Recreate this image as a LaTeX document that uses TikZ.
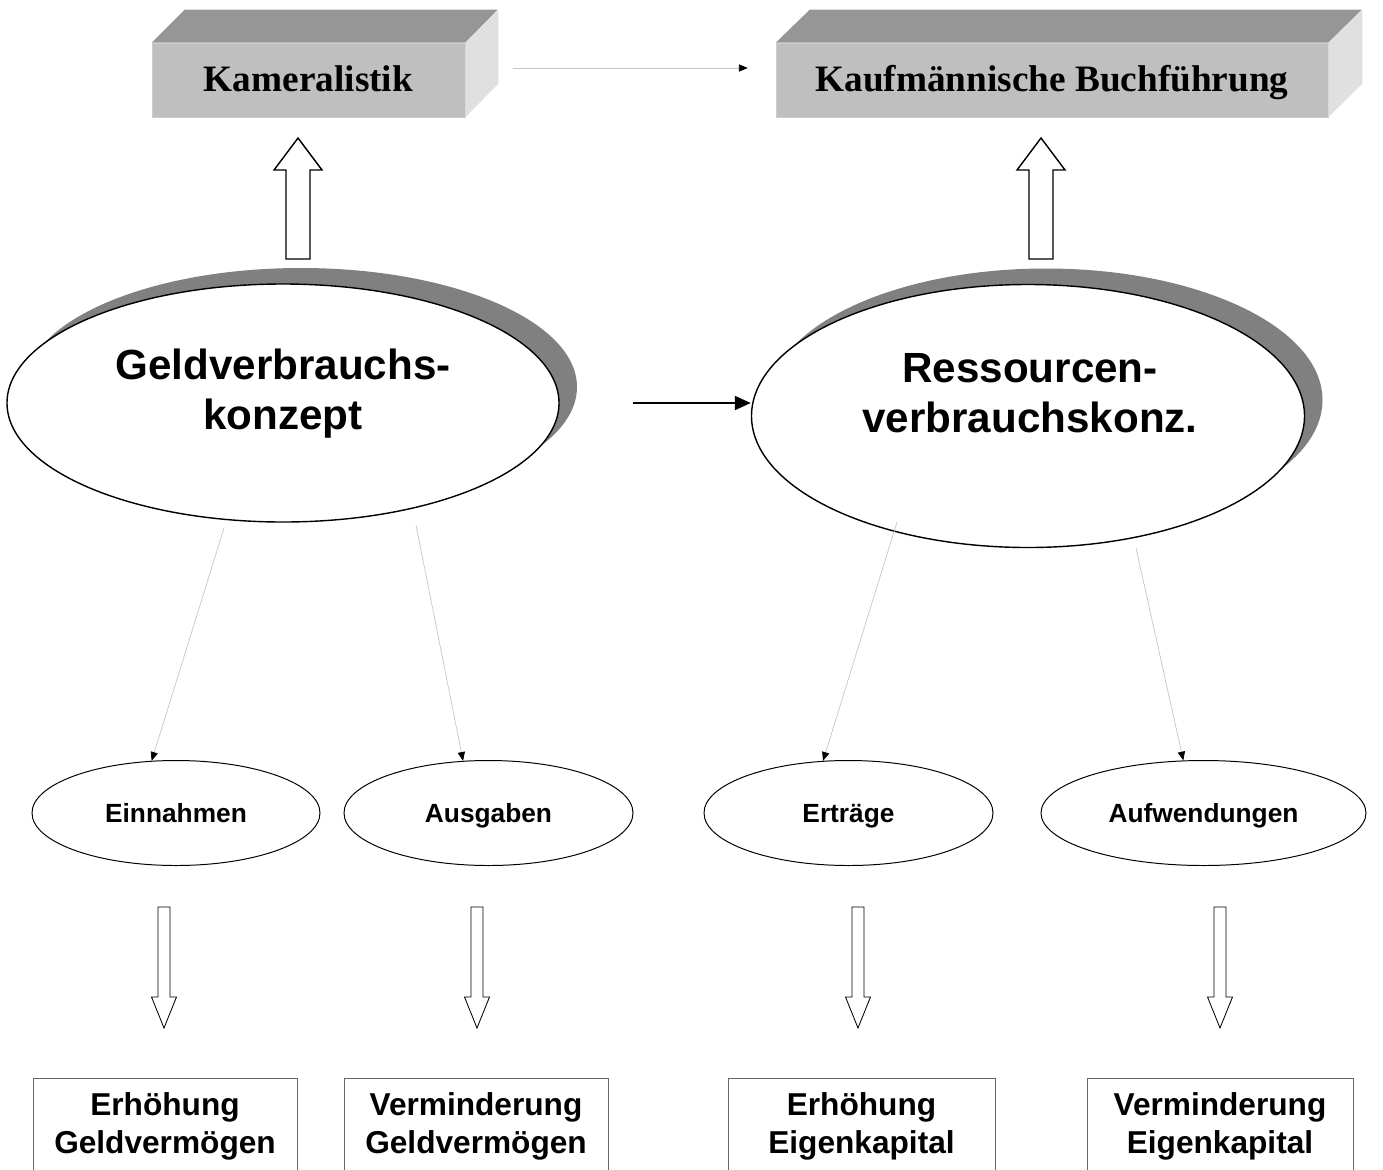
\documentclass[tikz,border=0pt]{standalone}
\usepackage{fontspec}
\setmainfont{Liberation Sans}
\newfontfamily\timesfont{Liberation Serif}
\usetikzlibrary{arrows.meta,shapes.geometric,shadows}

\newdimen\pix \pix=0.25mm

% hollow block arrows (x centre)
\newcommand{\hollowup}[1]{%
  \draw[line width=1pt] (#1-12,259) -- (#1-12,170) -- (#1-24,170) -- (#1,138)
    -- (#1+24,170) -- (#1+12,170) -- (#1+12,259) -- cycle;}
\newcommand{\hollowdown}[1]{%
  \draw[line width=0.6pt] (#1-6,907) -- (#1-6,997) -- (#1-12.5,997) -- (#1,1028)
    -- (#1+12.5,997) -- (#1+6,997) -- (#1+6,907) -- cycle;}

\tikzset{
  boxfront/.style={draw=black!20, fill=black!25, minimum height=74\pix, inner sep=0,
    text height=21pt, text depth=4pt,
    font=\timesfont\bfseries\fontsize{26.5}{30}\selectfont},
  boxtop/.style={fill=black!41},
  boxside/.style={fill=black!12},
  bigell/.style={ellipse, draw, line width=1pt, fill=white, inner sep=0,
    general shadow={fill=black!50, shadow xshift=18\pix, shadow yshift=16\pix}},
  bigtxt/.style={align=center, font=\bfseries\fontsize{30}{35.5}\selectfont},
  smallell/.style={ellipse, draw, line width=0.7pt, minimum height=105\pix, inner sep=0,
    text height=17pt, text depth=3pt,
    font=\bfseries\fontsize{18.7}{22}\selectfont},
  resultbox/.style={draw=black!60, line width=0.5pt, minimum width=264\pix,
    minimum height=96\pix, anchor=north, align=center,
    font=\bfseries\fontsize{22.5}{26.5}\selectfont},
  thinarr/.style={draw=black!22, line width=0.5pt,
    -{Triangle[length=2.2mm,width=1.8mm,color=black]}},
  thickarr/.style={line width=1.4pt, -{Triangle[length=4mm,width=3.5mm]}}
}

\begin{document}
\begin{tikzpicture}[x=0.25mm,y=-0.25mm]
\clip (0,0) rectangle (1383,1169);

% 3d boxes
\node[boxfront, minimum width=313\pix] (kam) at (308.5,80) {Kameralistik};
\fill[boxtop] (kam.north west) -- ++(33,-33) -- ++(313,0) -- (kam.north east) -- cycle;
\fill[boxside] (kam.north east) -- ++(33,-33) -- ++(0,74) -- (kam.south east) -- cycle;

\node[boxfront, minimum width=552\pix] (kauf) at (1052,80) {Kaufmännische Buchführung};
\fill[boxtop] (kauf.north west) -- ++(34,-33) -- ++(552,0) -- (kauf.north east) -- cycle;
\fill[boxside] (kauf.north east) -- ++(34,-33) -- ++(0,74) -- (kauf.south east) -- cycle;

\draw[thinarr] ([xshift=48\pix,yshift=12\pix]kam.east) -- ([xshift=-28\pix,yshift=12\pix]kauf.west);

\hollowup{298}
\hollowup{1041}

% concepts
\node[bigell, minimum width=552\pix, minimum height=238\pix] (geld) at (283,403) {};
\node[bigtxt] (geldtxt) at (283,394) {Geldverbrauchs-\\konzept};

\node[bigell, minimum width=553\pix, minimum height=263\pix] (ress) at (1028,416) {};
\node[bigtxt] (resstxt) at (1030,393) {Ressourcen-\\verbrauchskonz.};

\draw[thickarr] ([xshift=73\pix]geld.east) -- (geld.east -| ress.west);

% einnahmen etc.
\node[smallell, minimum width=288\pix] (einn) at (176,813) {Einnahmen};
\node[smallell, minimum width=289\pix] (ausg) at (488.5,813) {Ausgaben};
\node[smallell, minimum width=289\pix] (ertr) at (848.5,813) {Erträge};
\node[smallell, minimum width=325\pix] (aufw) at (1203.5,813) {Aufwendungen};

\coordinate (g1) at (224,528);
\coordinate (g2) at (416,525);
\coordinate (r1) at (897,522);
\coordinate (r2) at (1136,548);

\draw[thinarr] (g1) -- (einn.115);
\draw[thinarr] (g2) -- (ausg.116);
\draw[thinarr] (r1) -- (ertr.116);
\draw[thinarr] (r2) -- (aufw.111);

\hollowdown{164}
\hollowdown{477}
\hollowdown{858}
\hollowdown{1220}

% results
\node[resultbox] (erhg) at (165,1078) {Erhöhung\\Geldvermögen};
\node[resultbox] (verg) at (476,1078) {Verminderung\\Geldvermögen};
\node[resultbox, minimum width=267\pix] (erhe) at (861.5,1078) {Erhöhung\\Eigenkapital};
\node[resultbox, minimum width=266\pix] (vere) at (1220,1078) {Verminderung\\Eigenkapital};
\end{tikzpicture}
\end{document}
